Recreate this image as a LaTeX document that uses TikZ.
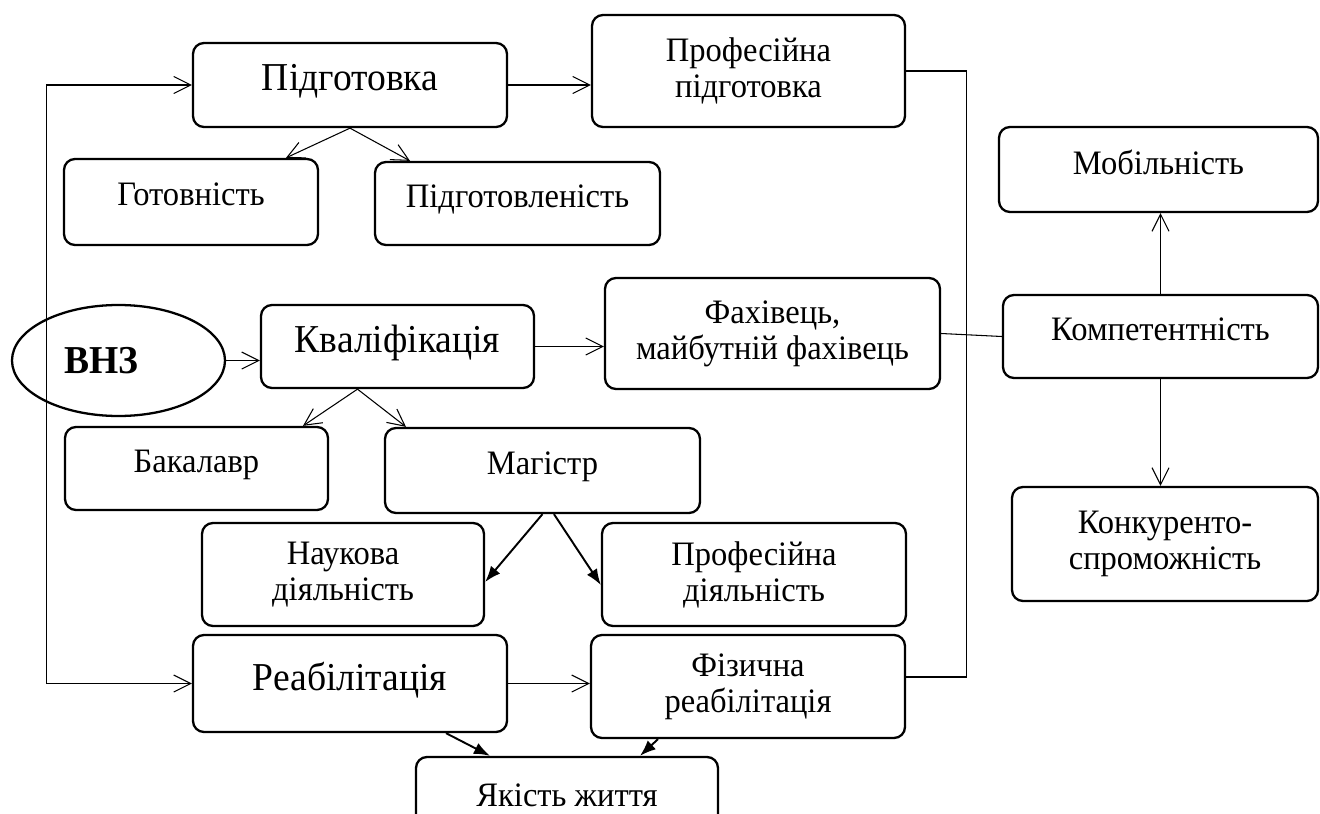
\documentclass[tikz,border=0pt]{standalone}
\usepackage{fontspec}
\setmainfont{Liberation Serif}[FakeStretch=0.95]
\usetikzlibrary{arrows.meta,shapes.geometric}

\begin{document}
\begin{tikzpicture}[
  box/.style={draw, rounded corners=0.22cm, line width=1.3pt, align=center,
    inner sep=0pt, font=\fontsize{19.5}{20.5}\selectfont},
  big/.style={font=\fontsize{22.5}{24}\selectfont},
  one/.style={text depth=0.3cm},
  opn/.style={-{Straight Barb[length=0.34cm,width=0.34cm]}, line width=0.6pt},
  fil/.style={-{Latex[length=0.32cm,width=0.24cm]}, line width=1.1pt}]
\useasboundingbox (0,0) rectangle (26.4,-16.28);

\node [box, big, one, minimum width=6.28cm, minimum height=1.68cm] (pidg) at (7.00,-1.70) {Підготовка};
\node [box, minimum width=6.26cm, minimum height=2.24cm] (prof) at (14.97,-1.42) {Професійна\\підготовка};
\node [box, one, minimum width=5.08cm, minimum height=1.72cm] (gotv) at (3.82,-4.04) {Готовність};
\node [box, one, minimum width=5.70cm, minimum height=1.66cm] (pidl) at (10.35,-4.07) {Підготовленість};
\node [box, one, minimum width=6.38cm, minimum height=1.70cm] (mobl) at (23.17,-3.39) {Мобільність};

\node [draw, ellipse, line width=1.3pt, inner sep=0pt, minimum width=4.26cm, minimum height=2.22cm,
  font=\fontsize{22.5}{24}\selectfont\bfseries] (vnz) at (2.37,-7.21) {ВНЗ\hspace*{0.68cm}};
\node [box, big, one, minimum width=5.46cm, minimum height=1.66cm] (kval) at (7.95,-6.93) {Кваліфікація};
\node [box, minimum width=6.70cm, minimum height=2.22cm] (fakh) at (15.45,-6.67) {Фахівець,\\майбутній фахівець};
\node [box, one, minimum width=6.30cm, minimum height=1.66cm] (komp) at (23.21,-6.73) {Компетентність};
\node [box, minimum width=6.12cm, minimum height=2.28cm] (konk) at (23.30,-10.88) {Конкуренто-\\спроможність};

\node [box, one, minimum width=5.26cm, minimum height=1.66cm] (bakl) at (3.93,-9.37) {Бакалавр};
\node [box, one, minimum width=6.30cm, minimum height=1.70cm] (magi) at (10.85,-9.41) {Магістр};
\node [box, minimum width=5.64cm, minimum height=2.06cm] (nauk) at (6.86,-11.49) {Наукова\\діяльність};
\node [box, minimum width=6.08cm, minimum height=2.06cm] (prdi) at (15.08,-11.49) {Професійна\\діяльність};

\node [box, big, one, minimum width=6.28cm, minimum height=1.94cm] (reab) at (7.00,-13.67) {Реабілітація};
\node [box, minimum width=6.28cm, minimum height=2.06cm] (fizr) at (14.96,-13.73) {Фізична\\реабілітація};
\node [box, minimum width=6.04cm, minimum height=1.52cm] (yaki) at (11.34,-15.90) {Якість життя};

\coordinate (lft) at (0.93,0);
\coordinate (rgt) at (19.33,0);
\coordinate (fizx) at ([yshift=0.19cm]fizr.east);

% left frame line
\draw [opn] (pidg.west -| lft) -- (pidg.west);
\draw [opn] (pidg.west -| lft) |- (reab.west);

% right frame line
\draw [line width=0.6pt] (prof.east) -| (rgt |- fizx) -- (fizx);
\draw [line width=0.6pt] (fakh.east) -- (komp.west);

\path [opn] (pidg.east) edge (pidg.east -| prof.west)
  (vnz.east) edge (vnz.east -| kval.west)
  (kval.east) edge (kval.east -| fakh.west)
  (reab.east) edge (reab.east -| fizr.west)
  (komp.north) edge (komp.north |- mobl.south)
  (komp.south) edge (komp.south |- konk.north);

\draw [opn] (pidg.south) -- ([xshift=1.9cm]gotv.north);
\draw [opn] (pidg.south) -- ([xshift=-2.15cm]pidl.north);
\draw [opn] ([xshift=-0.8cm]kval.south) -- ([xshift=2.13cm]bakl.north);
\draw [opn] ([xshift=-0.8cm]kval.south) -- ([xshift=-2.73cm]magi.north);

\draw [fil] (magi.south) -- ([yshift=-0.15cm]nauk.east);
\draw [fil] ([xshift=0.23cm]magi.south) -- ([yshift=-0.21cm]prdi.west);
\draw [fil] ([xshift=1.92cm]reab.south) -- ([xshift=-1.54cm]yaki.north);
\draw [fil] ([xshift=-1.8cm]fizr.south) -- ([xshift=1.46cm]yaki.north);

\end{tikzpicture}
\end{document}
